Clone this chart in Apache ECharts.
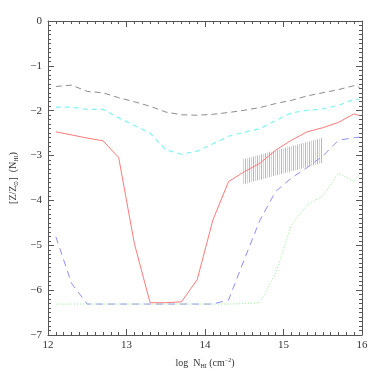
<!DOCTYPE html>
<head>
    <meta charset="utf-8">
    <title>metallicity</title>
    <script type="text/javascript" src="https://cdn.jsdelivr.net/npm/echarts@6/dist/echarts.min.js"></script>
    <style>
        html, body { margin: 0; padding: 0; background: #fff; }
        #main { width: 382px; height: 382px; }
    </style>
</head>
<body>
    <div id="main"></div>

    <script type="text/javascript">
        // log N_HI sampling
        var logN = [12.1, 12.3, 12.5, 12.7, 12.9, 13.1, 13.3, 13.5, 13.7, 13.9, 14.1,
                    14.3, 14.5, 14.7, 14.9, 15.1, 15.3, 15.5, 15.7, 15.9, 15.97];
        //黑色虚线
        var grayDash = [-1.46, -1.43, -1.57, -1.60, -1.71, -1.80, -1.90, -2.03, -2.09, -2.10, -2.08,
                        -2.04, -1.99, -1.93, -1.84, -1.77, -1.67, -1.60, -1.53, -1.44, -1.48];
        //青色虚线
        var cyanDash = [-1.92, -1.92, -1.97, -1.97, -2.16, -2.33, -2.50, -2.87, -2.97, -2.90, -2.74,
                        -2.57, -2.48, -2.40, -2.22, -2.05, -1.99, -1.96, -1.88, -1.75, -1.75];
        //红色实线
        var redSolid = [-2.47, -2.54, -2.61, -2.67, -3.04, -4.96, -6.28, -6.28, -6.26, -5.77, -4.44,
                        -3.58, -3.36, -3.17, -2.88, -2.66, -2.47, -2.38, -2.26, -2.07, -2.11];
        //蓝色虚线
        var blueDash = [-4.81, -5.85, -6.31, -6.31, -6.31, -6.31, -6.31, -6.31, -6.31, -6.31, -6.31,
                        -6.22, -5.32, -4.44, -3.80, -3.50, -3.27, -3.01, -2.66, -2.60, -2.59];
        //绿色点线
        var greenDot = [-6.31, -6.31, -6.31, -6.31, -6.31, -6.31, -6.31, -6.31, -6.31, -6.31, -6.31,
                        -6.31, -6.30, -6.28, -5.62, -4.55, -4.10, -3.90, -3.40, -3.58, -3.40];
        //阴影区
        var hatchX = [14.49, 15.48];
        var hatchLow = [-3.64, -3.17];
        var hatchHigh = [-3.08, -2.61];

        var xTicks = [12, 13, 14, 15, 16];
        var yTicks = [0, -1, -2, -3, -4, -5, -6, -7];

        function pairs(ys) {
            var out = [];
            for (var i = 0; i < logN.length; i++) out.push([logN[i], ys[i]]);
            return out;
        }

        var serif = 'Liberation Serif';
        var axisCol = '#555';

        function xAx(pos, showLabel) {
            return {
                type: 'value', position: pos, min: xTicks[0], max: xTicks[xTicks.length - 1], interval: 1,
                axisLine: { show: true, onZero: false, lineStyle: { color: axisCol, width: 1 } },
                axisTick: { show: true, inside: true, length: 6, lineStyle: { color: axisCol, width: 1 } },
                minorTick: { show: true, splitNumber: 10, length: 3, lineStyle: { color: axisCol, width: 1 } },
                splitLine: { show: false },
                axisLabel: { show: showLabel, color: '#333', fontFamily: serif, fontSize: 11, margin: 5 },
                name: showLabel ? '{n|log  N}{s|HI}{n| (cm}{p|−2}{n|)}' : '',
                nameLocation: 'middle', nameGap: 22,
                nameTextStyle: {
                    rich: {
                        n: { fontFamily: serif, fontSize: 10, color: '#333' },
                        s: { fontFamily: serif, fontSize: 6, color: '#333', verticalAlign: 'bottom', padding: [6, 0, 0, 0] },
                        p: { fontFamily: serif, fontSize: 6, color: '#333', verticalAlign: 'top', padding: [0, 0, 4, 0] }
                    }
                }
            };
        }

        function yAx(pos, showLabel) {
            return {
                type: 'value', position: pos, min: yTicks[yTicks.length - 1], max: yTicks[0], interval: 1,
                axisLine: { show: true, onZero: false, lineStyle: { color: axisCol, width: 1 } },
                axisTick: { show: true, inside: true, length: 6, lineStyle: { color: axisCol, width: 1 } },
                minorTick: { show: true, splitNumber: 10, length: 3, lineStyle: { color: axisCol, width: 1 } },
                splitLine: { show: false },
                axisLabel: {
                    show: showLabel, color: '#333', fontFamily: serif, fontSize: 11, margin: 6,
                    formatter: function (v) { return v < 0 ? '−' + (-v) : '' + v; }
                },
                name: showLabel ? '{n|[Z/Z}{s|⊙}{n|]  (N}{s|HI}{n|)}' : '',
                nameLocation: 'middle', nameGap: 25, nameRotate: 90,
                nameTextStyle: {
                    rich: {
                        n: { fontFamily: serif, fontSize: 10, color: '#333' },
                        s: { fontFamily: serif, fontSize: 6, color: '#333', verticalAlign: 'bottom', padding: [6, 0, 0, 0] }
                    }
                }
            };
        }

        function lineSeries(name, ys, color, type, width) {
            return {
                name: name, type: 'line', data: pairs(ys), symbol: 'none', silent: true,
                lineStyle: { color: color, width: width, type: type },
                z: 3
            };
        }

        var chart = echarts.init(document.getElementById('main'));
        chart.setOption({
            animation: false,
            backgroundColor: '#fff',
            grid: { left: 48, right: 20, top: 21, bottom: 47 },
            xAxis: [xAx('bottom', true), xAx('top', false)],
            yAxis: [yAx('left', true), yAx('right', false)],
            series: [
                {
                    name: 'hatch', type: 'custom', silent: true, z: 2,
                    data: [[hatchX[0], hatchLow[0], hatchHigh[0], hatchX[1], hatchLow[1], hatchHigh[1]]],
                    renderItem: function (params, api) {
                        var a0 = api.coord([api.value(0), api.value(1)]);
                        var b0 = api.coord([api.value(0), api.value(2)]);
                        var a1 = api.coord([api.value(3), api.value(4)]);
                        var b1 = api.coord([api.value(3), api.value(5)]);
                        var kids = [];
                        var n = Math.round((a1[0] - a0[0]) / 2);
                        for (var i = 0; i <= n; i++) {
                            var t = i / n;
                            var x = Math.round(a0[0] + t * (a1[0] - a0[0])) + 0.5;
                            kids.push({
                                type: 'line',
                                shape: {
                                    x1: x, y1: a0[1] + t * (a1[1] - a0[1]),
                                    x2: x, y2: b0[1] + t * (b1[1] - b0[1])
                                },
                                style: { stroke: i % 2 ? '#b8b8b8' : '#d4d4d4', lineWidth: 1 }
                            });
                        }
                        return { type: 'group', children: kids };
                    }
                },
                lineSeries('gray', grayDash, '#8c8c8c', [6, 4], 1),
                lineSeries('cyan', cyanDash, '#7ff5f5', [5, 4], 1.2),
                lineSeries('red', redSolid, '#ff7a7a', 'solid', 1),
                lineSeries('blue', blueDash, '#8f8ff5', [7, 5], 1),
                lineSeries('green', greenDot, '#8ff08f', [1, 2], 1)
            ]
        });
    </script>
</body>
